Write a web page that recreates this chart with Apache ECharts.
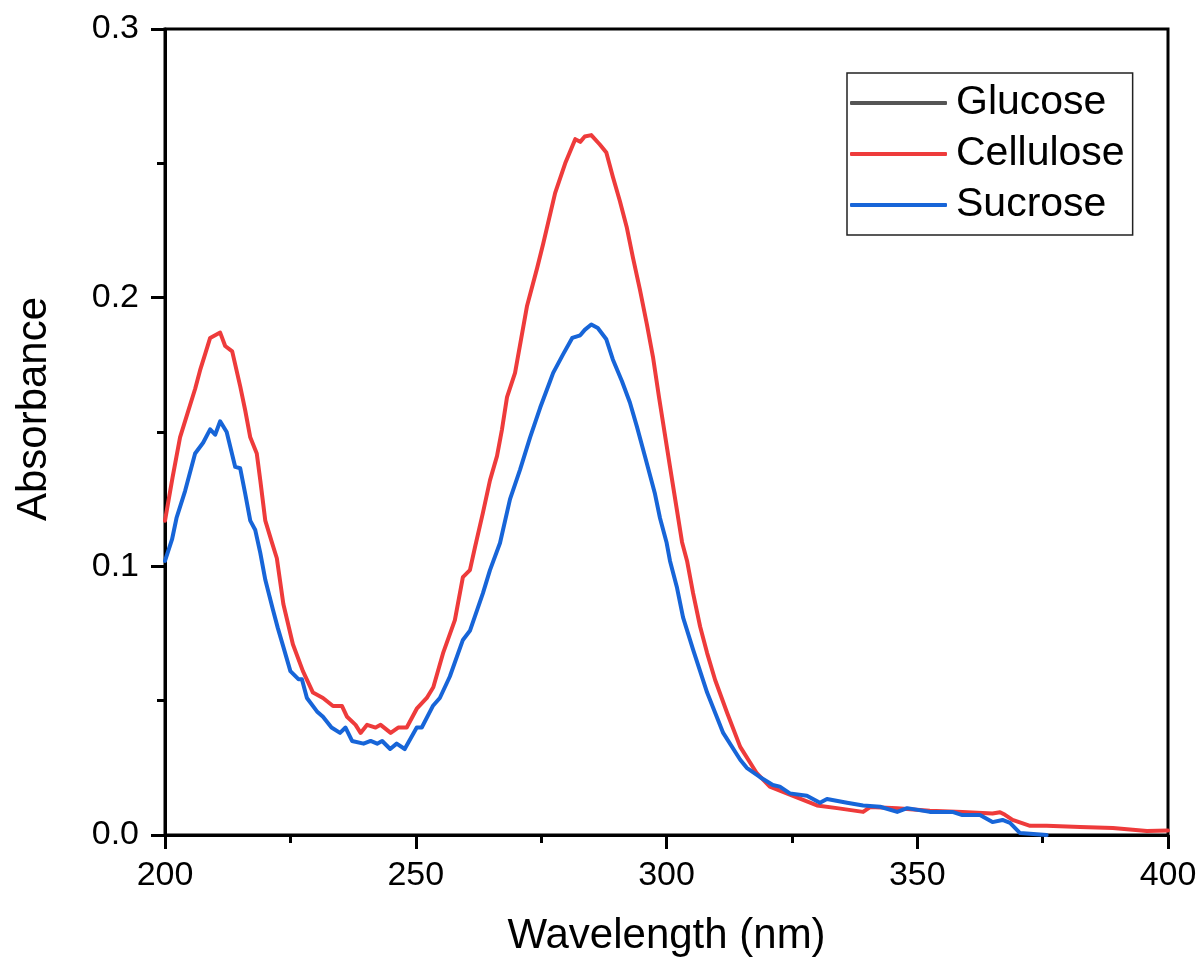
<!DOCTYPE html>
<html>
<head>
<meta charset="utf-8">
<script src="https://cdn.jsdelivr.net/npm/echarts@6/dist/echarts.min.js"></script>
<style>html,body{margin:0;padding:0;background:#fff;}#c{width:1200px;height:965px;}</style>
</head>
<body>
<div id="c"></div>
<script>
const seriesNames = ['Glucose', 'Cellulose', 'Sucrose'];
const xTicks = [200, 250, 300, 350, 400];
const yTicks = [0.0, 0.1, 0.2, 0.3];

const glucoseWl = [];
const glucoseAbs = [];

const celluloseWl = [200,201.5,203,204.5,206,207,208,209,210,211,212,213.4,215,216,217,218.3,219,220,221.3,222.3,223.6,225.5,227.5,229.5,231.5,233.5,235.3,236.3,238,239,240.3,242,243,245,246.5,248.2,250.2,252.2,253.5,255.5,257.8,259.4,260.8,261.8,263.4,264.8,266.2,267.2,268.2,269.8,272.2,274.2,275.4,277.8,279.8,281.8,282.8,283.7,285,286.7,288,289.3,290.7,292.1,293.3,294.7,296.1,297.3,298.5,300.7,303.1,304.1,305.3,306.7,308.1,309.7,312.1,314.7,318,320.6,324.6,330,334,339.2,340.6,346,352.5,359,365,366.5,367.5,369,372.5,375.8,382.5,389,395.8,400];
const celluloseAbs = [0.117,0.133,0.148,0.157,0.166,0.173,0.179,0.185,0.186,0.187,0.182,0.180,0.167,0.158,0.148,0.142,0.132,0.117,0.109,0.103,0.086,0.071,0.061,0.053,0.051,0.048,0.048,0.044,0.041,0.038,0.041,0.040,0.041,0.038,0.040,0.040,0.047,0.051,0.055,0.068,0.080,0.096,0.0986,0.107,0.120,0.132,0.141,0.151,0.163,0.172,0.197,0.211,0.220,0.239,0.250,0.259,0.258,0.260,0.2605,0.257,0.254,0.245,0.236,0.226,0.215,0.203,0.190,0.178,0.163,0.137,0.109,0.102,0.090,0.0776,0.0677,0.0577,0.0454,0.0328,0.023,0.018,0.015,0.011,0.010,0.0086,0.0104,0.010,0.009,0.0086,0.008,0.0085,0.0075,0.0056,0.0034,0.0034,0.003,0.0026,0.0015,0.0017];

const sucroseWl = [200,201.4,202.3,204,206,207.6,209,210,211,212.3,214,215,216,217,218,219,220,221.5,222.5,223.6,225,226.6,227.3,228.3,230.3,231.5,233.2,234.9,236,237.3,239.6,241,242.3,243.3,244.9,246.2,247.8,250.2,251.2,253.4,254.8,256.8,259.4,260.8,263.4,264.8,266.8,268.8,270.8,272.8,274.8,276.8,277.4,279.4,281.2,282.8,283.7,285,286.3,288,289.3,291.1,292.7,294.1,295.7,297.7,298.7,300,300.7,302.1,303.3,305.3,308.1,311.3,314.7,316,318.6,321.2,322.6,324.6,328,330.6,332,336,339.2,342.6,346,348,352.5,357,359,362.5,365,367,368.5,370.5,375.8];
const sucroseAbs = [0.102,0.110,0.118,0.128,0.142,0.146,0.151,0.149,0.154,0.150,0.137,0.1365,0.127,0.117,0.1135,0.105,0.095,0.084,0.077,0.070,0.061,0.058,0.058,0.051,0.046,0.044,0.040,0.038,0.040,0.035,0.034,0.035,0.034,0.035,0.032,0.034,0.032,0.040,0.040,0.048,0.051,0.059,0.0726,0.076,0.090,0.0986,0.1087,0.125,0.136,0.148,0.159,0.169,0.172,0.179,0.185,0.186,0.188,0.190,0.1887,0.1845,0.177,0.169,0.161,0.152,0.141,0.127,0.118,0.109,0.102,0.092,0.081,0.069,0.053,0.038,0.028,0.025,0.0216,0.0186,0.018,0.0155,0.0146,0.012,0.0134,0.012,0.011,0.0105,0.0086,0.010,0.0086,0.0086,0.0074,0.0074,0.0048,0.0056,0.0045,0.0007,0];

function zip(a, b) { return a.map((v, i) => [v, b[i]]); }

const FONT = "'Liberation Sans', Arial, sans-serif";
const colors = ['#555555', '#ee3b3b', '#1765d8'];
const datasets = [zip(glucoseWl, glucoseAbs), zip(celluloseWl, celluloseAbs), zip(sucroseWl, sucroseAbs)];

const chart = echarts.init(document.getElementById('c'), null, {renderer: 'canvas'});
chart.setOption({
  animation: false,
  backgroundColor: '#fff',
  grid: {left: 165, right: 32, top: 29, bottom: 130, show: true, borderColor: '#000', borderWidth: 3, backgroundColor: 'transparent'},
  legend: {
    orient: 'vertical', left: 847, top: 73,
    data: seriesNames,
    icon: 'roundRect',
    itemWidth: 97, itemHeight: 4, itemGap: 7,
    padding: [8, 8, 8, 3],
    borderColor: '#222', borderWidth: 1.5,
    textStyle: {fontFamily: FONT, fontSize: 41, color: '#000', lineHeight: 44, padding: [0, 0, 0, 4]}
  },
  xAxis: {
    type: 'value', min: xTicks[0], max: xTicks[xTicks.length - 1], interval: 50,
    name: 'Wavelength (nm)', nameLocation: 'middle', nameGap: 80,
    nameTextStyle: {fontFamily: FONT, fontSize: 42, color: '#000'},
    axisLine: {show: true, lineStyle: {color: '#000', width: 3}},
    axisTick: {show: true, inside: false, length: 14, lineStyle: {color: '#000', width: 3}},
    minorTick: {show: true, splitNumber: 2, length: 8, lineStyle: {color: '#000', width: 3}},
    axisLabel: {fontFamily: FONT, fontSize: 34, color: '#000', margin: 24},
    splitLine: {show: false}
  },
  yAxis: {
    type: 'value', min: yTicks[0], max: yTicks[yTicks.length - 1], interval: 0.1,
    name: 'Absorbance', nameLocation: 'middle', nameGap: 110,
    nameTextStyle: {fontFamily: FONT, fontSize: 42, color: '#000', padding: [0, 0, 0, 46]},
    axisLine: {show: true, lineStyle: {color: '#000', width: 3}},
    axisTick: {show: true, inside: false, length: 14, lineStyle: {color: '#000', width: 3}},
    minorTick: {show: true, splitNumber: 2, length: 8, lineStyle: {color: '#000', width: 3}},
    axisLabel: {fontFamily: FONT, fontSize: 34, color: '#000', margin: 26, formatter: v => v.toFixed(1)},
    splitLine: {show: false}
  },
  series: seriesNames.map((n, i) => ({
    name: n, type: 'line', data: datasets[i], symbol: 'none', showSymbol: false,
    color: colors[i],
    lineStyle: {color: colors[i], width: 4, join: 'round', cap: 'round'},
    itemStyle: {color: colors[i]},
    z: 3 + i
  }))
});
</script>
</body>
</html>
